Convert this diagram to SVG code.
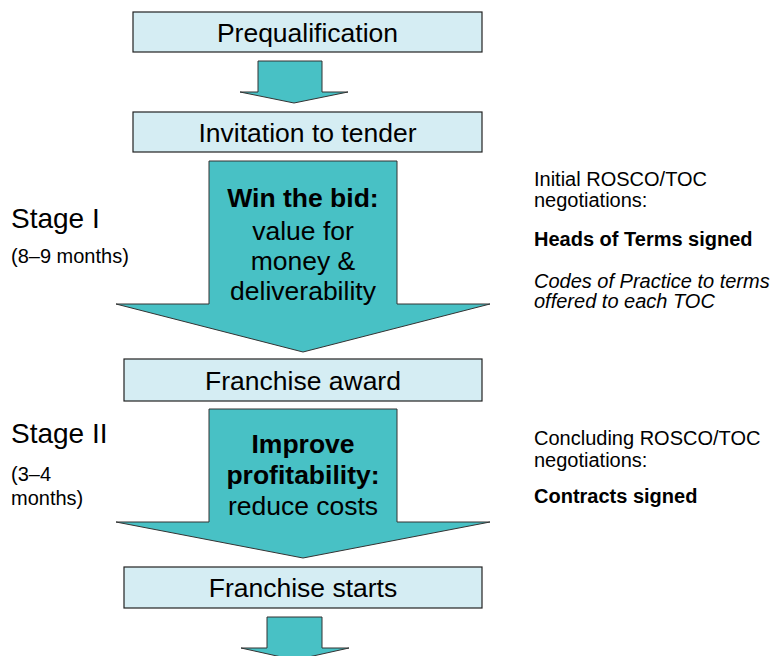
<svg xmlns="http://www.w3.org/2000/svg" width="777" height="656" viewBox="0 0 777 656">
<style>
.box{fill:#D5EDF3;stroke:#222;stroke-width:1.2}
.arr{fill:#48C1C5;stroke:#333;stroke-width:1}
.t{font-family:"Liberation Sans",Arial,sans-serif;fill:#000}
.bx{font-size:26.5px;text-anchor:middle}
.ar{font-size:26.5px;text-anchor:middle}
.b{font-weight:bold}
.r{font-size:20px}
.i{font-style:italic}
.st{font-size:28px}
.sm{font-size:20px}
</style>
<rect width="777" height="656" fill="#fff"/>
<g id="connectors">
<polygon id="arrow1" class="arr" points="258,61 322,61 322,92 348,92 294,103 240,92 258,92"/>
<polygon id="arrow2" class="arr" points="209,161 397,161 397,304 490,304 303,352 116,304 209,304"/>
<polygon id="arrow3" class="arr" points="209,409 397,409 397,522 490,522 303,558 116,522 209,522"/>
<polygon id="arrow4" class="arr" points="267,617 322,617 322,648 349,648 295,660 241,648 267,648"/>
</g>
<g id="prequalification">
<rect class="box" x="133" y="12" width="349" height="40"/>
<text class="t bx" x="307.5" y="42">Prequalification</text>
</g>
<g id="invitation">
<rect class="box" x="133" y="112" width="349" height="40"/>
<text class="t bx" x="307.5" y="142">Invitation to tender</text>
</g>
<g id="win-bid">
<text class="t ar b" x="303" y="207">Win the bid:</text>
<text class="t ar" x="303" y="240">value for</text>
<text class="t ar" x="303" y="270">money &amp;</text>
<text class="t ar" x="303" y="300">deliverability</text>
</g>
<g id="franchise-award">
<rect class="box" x="124" y="359" width="358" height="42"/>
<text class="t bx" x="303" y="390">Franchise award</text>
</g>
<g id="improve">
<text class="t ar b" x="303" y="453">Improve</text>
<text class="t ar b" x="303" y="484">profitability:</text>
<text class="t ar" x="303" y="515">reduce costs</text>
</g>
<g id="franchise-starts">
<rect class="box" x="124" y="567" width="358" height="41"/>
<text class="t bx" x="303" y="597">Franchise starts</text>
</g>
<g id="stage1">
<text class="t st" x="11" y="228">Stage I</text>
<text class="t sm" x="11" y="263">(8–9 months)</text>
</g>
<g id="stage2">
<text class="t st" x="11" y="443">Stage II</text>
<text class="t sm" x="11" y="481">(3–4</text>
<text class="t sm" x="11" y="505">months)</text>
</g>
<g id="notes1">
<text class="t r" x="534" y="186">Initial ROSCO/TOC</text>
<text class="t r" x="534" y="207">negotiations:</text>
<text class="t r b" x="534" y="246">Heads of Terms signed</text>
<text class="t r i" x="534" y="288">Codes of Practice to terms</text>
<text class="t r i" x="534" y="308">offered to each TOC</text>
</g>
<g id="notes2">
<text class="t r" x="534" y="445">Concluding ROSCO/TOC</text>
<text class="t r" x="534" y="467">negotiations:</text>
<text class="t r b" x="534" y="503">Contracts signed</text>
</g>
</svg>
